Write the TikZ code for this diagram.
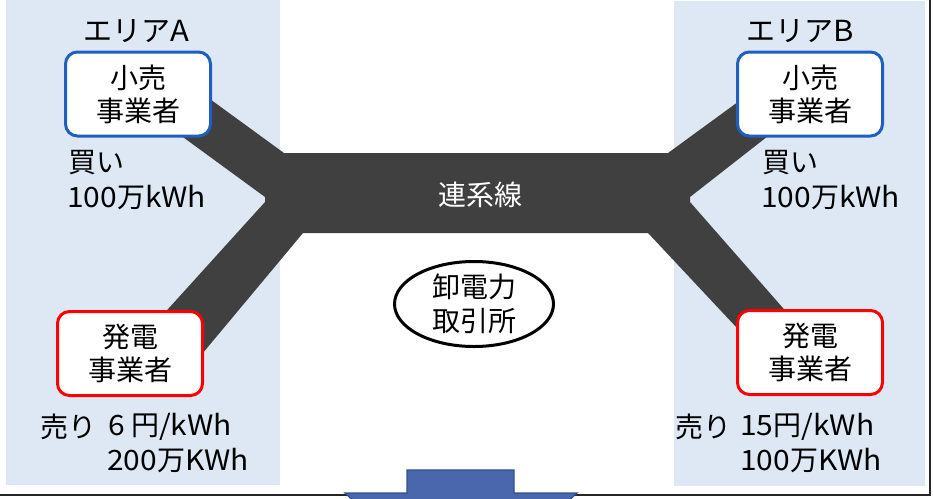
\documentclass[tikz,border=0pt]{standalone}
\usepackage{fontspec}
\setmainfont{Noto Sans CJK JP}
\newfontfamily\latfont{Noto Sans CJK JP}[FakeStretch=1.07]
\newcommand{\lat}[1]{{\latfont #1}}
\usetikzlibrary{shapes.geometric}
\definecolor{panel}{HTML}{DEE8F4}
\definecolor{linkc}{HTML}{404040}
\definecolor{bluebd}{HTML}{1F5FC0}
\definecolor{arrowfill}{HTML}{4A67AD}
\definecolor{arrowbd}{HTML}{2F4F8F}
\begin{document}
\begin{tikzpicture}[x=1pt,y=-1pt,
  box/.style={draw, line width=3pt, rounded corners=12pt, fill=white,
    minimum width=145pt, minimum height=84pt, align=center, inner sep=0pt,
    font=\fontsize{28}{33}\selectfont},
  retail/.style={box, draw=bluebd},
  gen/.style={box, draw=red},
  txt/.style={inner sep=0pt, font=\fontsize{28}{34}\selectfont},
  title/.style={inner sep=0pt, font=\fontsize{29}{34}\selectfont}]
\useasboundingbox (0,0) rectangle (933,498);
\clip (0,0) rectangle (933,498);
% panels
\fill[panel] (6,0) rectangle (280,485);
\fill[panel] (674,1) rectangle (925,486);
% interconnector shape
\fill[linkc] (170,70) -- (284,153) -- (668,153) -- (790,64) -- (800,111)
  -- (690,197) -- (690,202) -- (811,340) -- (767,360) -- (648,233)
  -- (303,233) -- (197,360) -- (140,340) -- (265,202) -- (265,197)
  -- (150,113) -- cycle;
\node[txt, text=white] (line) at (480,195) {連系線};
% area A
\node[title] (areaA) at (136,31) {エリア\lat{A}};
\node[retail] (retA) at (138,94) {小売\\事業者};
\node[txt, anchor=west] (buyA1) at (68,163) {買い};
\node[txt, anchor=west] (buyA2) at (67,197) {\lat{100}万\lat{kWh}};
\node[gen] (genA) at (130,353.5) {発電\\事業者};
\node[txt, anchor=west] (sellA) at (40,427) {売り};
\node[txt, anchor=west] (sellA1) at (108,427) {\lat{6} 円\lat{/kWh}};
\node[txt, anchor=west] (sellA2) at (107,460) {\lat{200}万\lat{KWh}};
% area B
\node[title] (areaB) at (800,31) {エリア\lat{B}};
\node[retail] (retB) at (810,94) {小売\\事業者};
\node[txt, anchor=west] (buyB1) at (762,163) {買い};
\node[txt, anchor=west] (buyB2) at (761,197) {\lat{100}万\lat{kWh}};
\node[gen] (genB) at (810,352.5) {発電\\事業者};
\node[txt, anchor=west] (sellB) at (675,427) {売り};
\node[txt, anchor=west] (sellB1) at (740,427) {\lat{15}円\lat{/kWh}};
\node[txt, anchor=west] (sellB2) at (740,460) {\lat{100}万\lat{KWh}};
% exchange
\node[draw, ellipse, line width=3pt, minimum width=159pt, minimum height=85pt,
  inner sep=0pt, align=center, font=\fontsize{28}{34}\selectfont] (jepx) at (474,304) {卸電力\\取引所};
% frame
\draw[line width=1.5pt, black!85] (0,495) -- (930,495) -- (930,0);
% arrow
\filldraw[fill=arrowfill, draw=arrowbd, line width=1.2pt]
  (407,470) -- (514,470) -- (514,493) -- (577,493) -- (460,600)
  -- (345,493) -- (407,493) -- cycle;
\end{tikzpicture}
\end{document}
